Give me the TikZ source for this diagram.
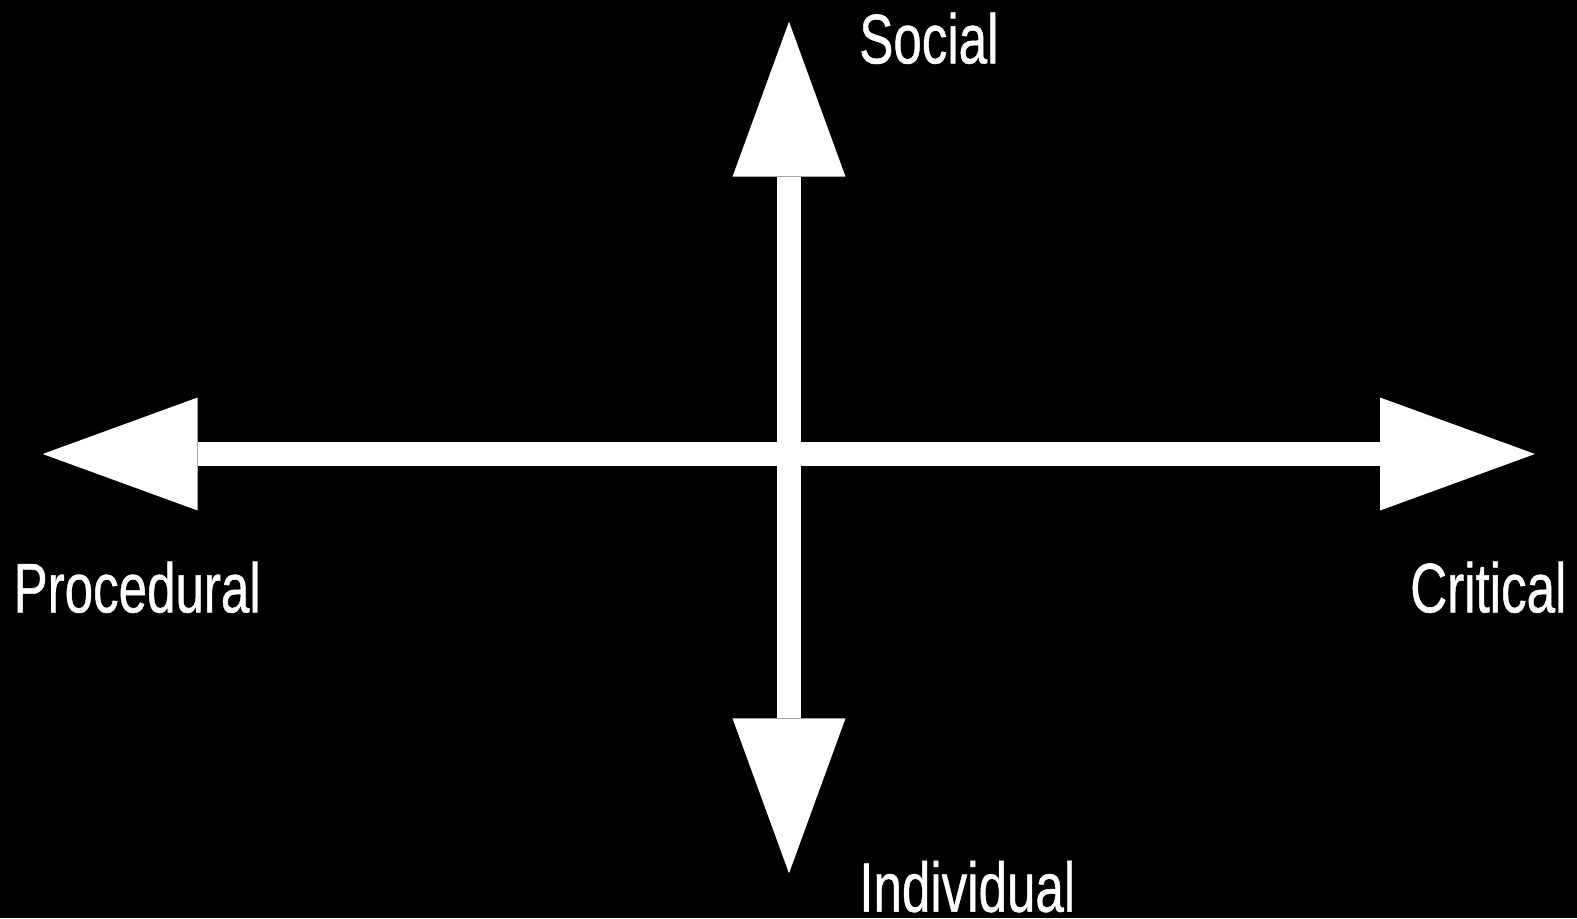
\documentclass[tikz,border=0pt]{standalone}
\usepackage{fontspec}
\setmainfont{Liberation Sans}
\newfontfamily\lblfont[FakeBold=0.8]{Liberation Sans}
\usetikzlibrary{arrows.meta}
\tikzset{>=latex}
\colorlet{bgcol}{black}
\colorlet{axcol}{white}
\tikzstyle{axis}=[axcol,line width=11.75pt,-{Triangle[length=77.5pt,width=56.5pt,line width=0pt]}]
\tikzstyle{lbl}=[axcol,inner sep=0,xscale=0.73,font=\lblfont\fontsize{35}{40}\selectfont]
\def\W{1577} % width in px
\def\H{918}  % height in px

\begin{document}
\begin{tikzpicture}[x=0.5pt,y=0.5pt]
  \fill[bgcol] (0,0) rectangle (\W,\H);
  \useasboundingbox (0,0) rectangle (\W,\H);
  % centre and the four arrow tips
  \coordinate (O) at (789,464);
  \coordinate (top) at (789,896.3);
  \coordinate (bot) at (789,44.7);
  \coordinate (lft) at (42.7,464);
  \coordinate (rgt) at (1535,464);
  \draw[axis] (O) -- (top);
  \draw[axis] (O) -- (bot);
  \draw[axis] (O) -- (lft);
  \draw[axis] (O) -- (rgt);
  \node[lbl,anchor=base west] (social) at (859,854.7) {Social};
  \node[lbl,anchor=base west] (indiv) at (859,6.3) {Individual};
  \node[lbl,anchor=base west] (proc) at (13.3,305.7) {Procedural};
  \node[lbl,anchor=base east] (crit) at (1566.7,305.7) {Critical};
\end{tikzpicture}
\end{document}
